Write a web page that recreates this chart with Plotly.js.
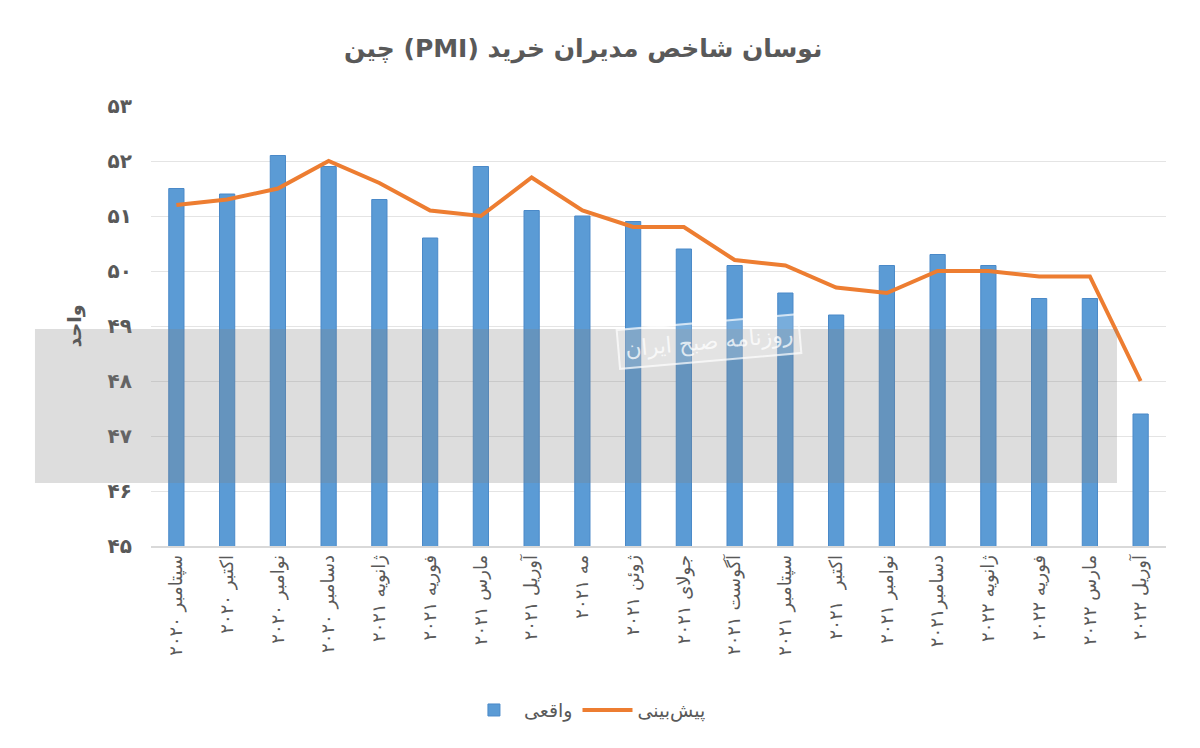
<!DOCTYPE html>
<html>
<head>
<meta charset="utf-8">
<script src="https://cdn.plot.ly/plotly-3.0.1.min.js"></script>
<style>
  body { margin: 0; background: #fff; }
  #chart { width: 1200px; height: 748px; outline: 1px solid #444; outline-offset: -1px; }
</style>
</head>
<body>
<div id="chart"></div>
<script>
var months = [
    'سپتامبر ۲۰۲۰', 'اکتبر ۲۰۲۰', 'نوامبر ۲۰۲۰', 'دسامبر ۲۰۲۰',
    'ژانویه ۲۰۲۱', 'فوریه ۲۰۲۱', 'مارس ۲۰۲۱', 'آوریل ۲۰۲۱',
    'مه ۲۰۲۱', 'ژوئن ۲۰۲۱', 'جولای ۲۰۲۱', 'آگوست ۲۰۲۱',
    'سپتامبر ۲۰۲۱', 'اکتبر  ۲۰۲۱', 'نوامبر ۲۰۲۱', 'دسامبر۲۰۲۱',
    'ژانویه ۲۰۲۲', 'فوریه ۲۰۲۲', 'مارس ۲۰۲۲', 'آوریل ۲۰۲۲'
];
var actual = [51.5, 51.4, 52.1, 51.9, 51.3, 50.6, 51.9, 51.1, 51.0, 50.9,
              50.4, 50.1, 49.6, 49.2, 50.1, 50.3, 50.1, 49.5, 49.5, 47.4];
var forecast = [51.2, 51.3, 51.5, 52.0, 51.6, 51.1, 51.0, 51.7, 51.1, 50.8,
                50.8, 50.2, 50.1, 49.7, 49.6, 50.0, 50.0, 49.9, 49.9, 48.0];
var yTicks = [45, 46, 47, 48, 49, 50, 51, 52, 53];
var yTickText = ['۴۵', '۴۶', '۴۷', '۴۸', '۴۹', '۵۰', '۵۱', '۵۲', '۵۳'];

// wrap right-to-left text so mixed latin parts stay in place
function rtl(s) {
    return '\u202B' + s + '\u202C';
}

function makeChart(divId) {
    var textColor = '#595959';
    var font = 'DejaVu Sans, sans-serif';

    var bars = {
        x: months,
        y: actual,
        type: 'bar',
        name: 'واقعی',
        marker: {color: '#5b9bd5', line: {color: '#4a89c8', width: 1}}
    };
    var line = {
        x: months,
        y: forecast,
        type: 'scatter',
        mode: 'lines',
        name: 'پیش‌بینی',
        line: {color: '#ed7d31', width: 4}
    };

    var layout = {
        width: 1200,
        height: 748,
        margin: {l: 151, r: 34, t: 106, b: 202},
        paper_bgcolor: '#fff',
        plot_bgcolor: '#fff',
        font: {family: font, color: textColor},
        title: {
            text: '<b>' + rtl('نوسان شاخص مدیران خرید (PMI) چین') + '</b>',
            font: {size: 25, color: textColor},
            x: 0.486, xanchor: 'center',
            y: 0.935, yanchor: 'middle'
        },
        bargap: 0.7,
        showlegend: true,
        legend: {
            orientation: 'h',
            x: 0.43, xanchor: 'center',
            y: -0.373, yanchor: 'middle',
            font: {size: 19, color: textColor},
            itemwidth: 50
        },
        xaxis: {
            type: 'category',
            tickangle: -90,
            tickfont: {size: 18, color: textColor},
            showgrid: false,
            showline: true,
            linecolor: '#d9d9d9',
            linewidth: 1.5,
            ticks: ''
        },
        yaxis: {
            range: [45, 53],
            tickvals: yTicks,
            ticktext: yTickText.map(function (t) { return '<b>' + t + '</b>'; }),
            tickfont: {size: 20, color: textColor},
            ticklabelstandoff: 18,
            showgrid: true,
            gridcolor: '#e4e4e4',
            zeroline: false,
            showline: false,
            title: {
                text: '<b>واحد</b>',
                font: {size: 19, color: textColor},
                standoff: 20
            }
        },
        shapes: [{
            type: 'rect',
            xref: 'paper', yref: 'paper',
            x0: -0.1143, x1: 0.9517,
            y0: 0.143, y1: 0.493,
            fillcolor: 'rgba(128,128,128,0.27)',
            line: {width: 0},
            layer: 'above'
        }],
        annotations: [{
            text: 'روزنامه صبح ایران',
            xref: 'paper', yref: 'paper',
            x: 0.55, y: 0.465,
            showarrow: false,
            textangle: -5,
            font: {size: 22, color: 'rgba(255,255,255,0.75)'},
            bgcolor: 'rgba(255,255,255,0.18)',
            bordercolor: 'rgba(255,255,255,0.7)',
            borderwidth: 2,
            borderpad: 6
        }]
    };

    var config = {responsive: false, displayModeBar: false};
    Plotly.newPlot(divId, [bars, line], layout, config);
}

makeChart('chart');
</script>
</body>
</html>
